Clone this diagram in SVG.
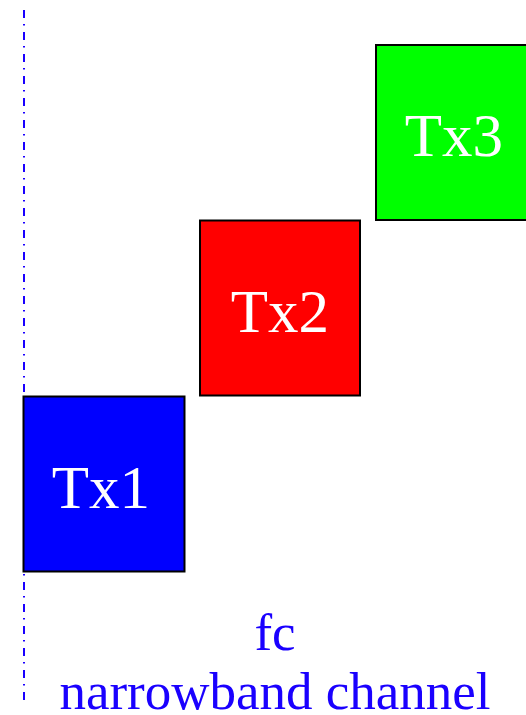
<svg xmlns="http://www.w3.org/2000/svg" width="526" height="715" viewBox="0 0 526 715">
<style>
.box{stroke:#000;stroke-width:2}
.lbl{font-family:"Liberation Serif",serif;font-size:61px;fill:#fff;text-anchor:middle}
.cap{font-family:"Liberation Serif",serif;font-size:53px;fill:#1a00ff;text-anchor:middle}
</style>
<rect width="526" height="715" fill="#fff"/>
<g id="connectors">
<line x1="24" y1="10" x2="24" y2="702" stroke="#1a00ff" stroke-width="2" stroke-dasharray="8,6,1.5,6.5"/>
</g>
<g id="tx1">
<rect class="box" x="23.5" y="396.5" width="161" height="175" fill="#0000ff"/>
<text class="lbl" x="101" y="508">Tx1</text>
</g>
<g id="tx2">
<rect class="box" x="200" y="220.5" width="160" height="175" fill="#ff0000"/>
<text class="lbl" x="280" y="332">Tx2</text>
</g>
<g id="tx3">
<rect class="box" x="376" y="45" width="160" height="175" fill="#00ff00"/>
<text class="lbl" x="454" y="156">Tx3</text>
</g>
<g id="caption">
<text class="cap" x="275" y="650">fc</text>
<text class="cap" x="275" y="709">narrowband channel</text>
</g>
</svg>
